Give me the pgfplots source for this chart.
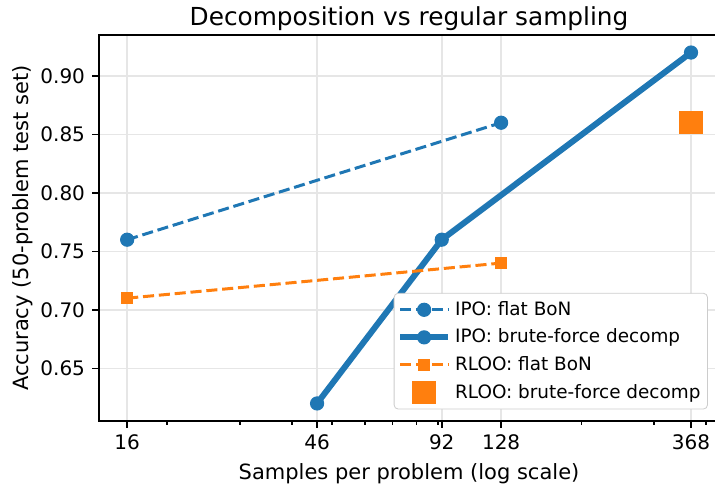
\documentclass[border=0pt]{standalone}
\usepackage{fontspec}
\setmainfont{DejaVu Sans}
\usepackage{pgfplots}
\pgfplotsset{compat=1.18}

\definecolor{C0}{HTML}{1F77B4}
\definecolor{C1}{HTML}{FF7F0E}
\definecolor{gridc}{HTML}{E6E6E6}

\begin{document}
\begin{tikzpicture}
  \begin{axis}[
    scale only axis,
    width=310pt, height=193pt,
    xmode=log,
    xmin=13.68, xmax=430,
    ymin=0.605, ymax=0.935,
    xtick={16,46,92,128,368},
    xticklabels={16,46,92,128,368},
    minor xtick={20,30,40,50,60,70,80,90,200,300,400},
    ytick={0.65,0.70,0.75,0.80,0.85,0.90},
    yticklabel style={/pgf/number format/.cd, fixed, fixed zerofill, precision=2},
    /pgf/number format/assume math mode=true,
    tick align=outside,
    xtick pos=bottom, ytick pos=left,
    major tick length=3.5pt, minor tick length=2pt,
    tick style={black, line width=0.8pt},
    axis line style={line width=0.8pt},
    grid=major,
    major grid style={gridc, line width=0.8pt},
    tick label style={font=\fontsize{10}{12}\selectfont},
    label style={font=\fontsize{10.5}{12}\selectfont},
    ylabel style={yshift=-3pt},
    title style={font=\fontsize{12.4}{14}\selectfont,
      at={(axis description cs:0.5,1)}, anchor=base, yshift=-1.5pt},
    title={Decomposition vs regular sampling},
    xlabel={Samples per problem (log scale)},
    ylabel={Accuracy (50-problem test set)},
    legend style={at={(0.982,0.03)}, anchor=south east, draw=black!20,
      rounded corners=2pt, fill=white,
      font=\fontsize{9.2}{11}\selectfont, row sep=1.3pt,
      inner xsep=1.5pt, inner ysep=2pt},
    legend image code/.code={
      \draw[mark repeat=2, mark phase=2, #1]
        plot coordinates {(0pt,0pt) (12pt,0pt) (24pt,0pt)};},
    legend cell align=left,
  ]
    \addplot[color=C0, line width=1.5pt, dash pattern=on 5.55pt off 2.4pt,
      mark=*, mark size=3.3pt, mark options={solid, line width=0.5pt}] coordinates{
      ( 16,0.76)
      (128,0.86)
    };
    \addlegendentry{IPO: flat BoN}
    \addplot[color=C0, line width=3pt, mark=*, mark size=3.3pt,
      mark options={line width=0.5pt}] coordinates{
      ( 46,0.62)
      ( 92,0.76)
      (368,0.92)
    };
    \addlegendentry{IPO: brute-force decomp}
    \addplot[color=C1, line width=1.5pt, dash pattern=on 5.55pt off 2.4pt,
      mark=square*, mark size=2.8pt, mark options={solid, line width=0.5pt}] coordinates{
      ( 16,0.71)
      (128,0.74)
    };
    \addlegendentry{RLOO: flat BoN}
    \addplot[color=C1, only marks, mark=square*, mark size=5.6pt,
      mark options={line width=0.5pt}] coordinates{
      (368,0.86)
    };
    \addlegendentry{RLOO: brute-force decomp}
  \end{axis}
  \pgfresetboundingbox
  \path[use as bounding box] (-49.5pt,-32pt) rectangle (308pt,210.5pt);
\end{tikzpicture}
\end{document}
